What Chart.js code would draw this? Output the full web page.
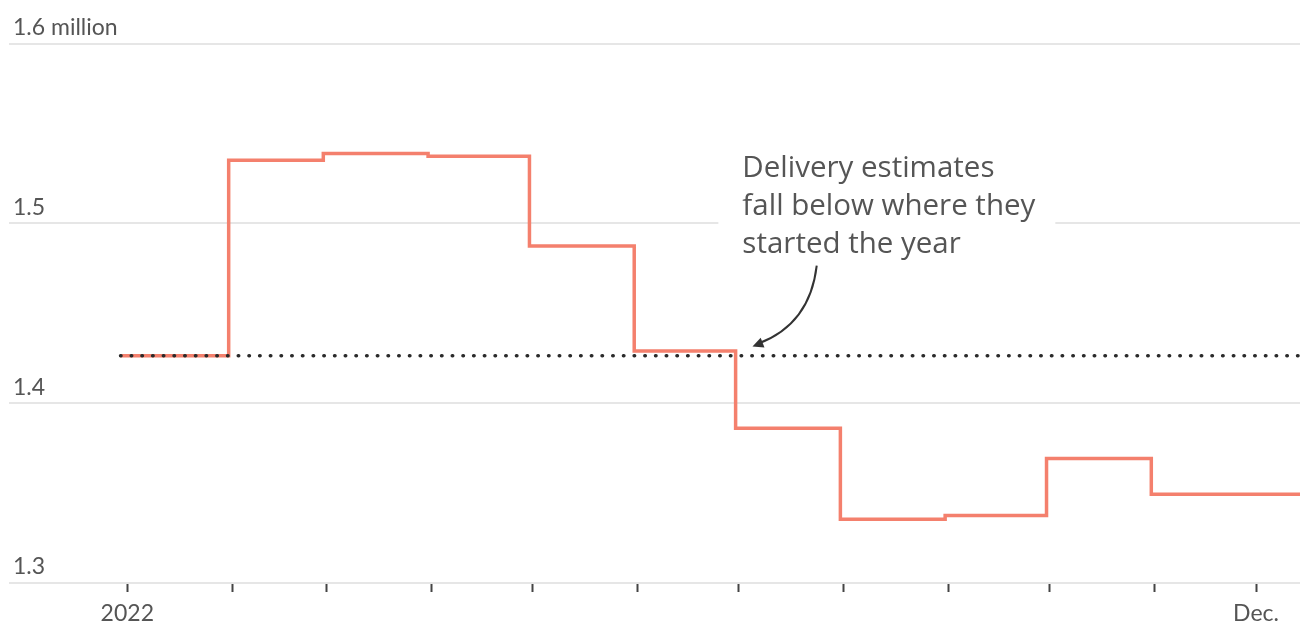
<!DOCTYPE html>
<html>
<head>
<meta charset="utf-8">
<script src="https://cdn.jsdelivr.net/npm/chart.js@4.4.1/dist/chart.umd.min.js"></script>
<style>
  html, body { margin: 0; padding: 0; background: #fff; }
  #wrap { position: relative; width: 1300px; height: 626px; }
</style>
</head>
<body>
<div id="wrap"><canvas id="chart"></canvas></div>
<script>
// each value holds from its date until the next one
const stepDates = [
  '2021-12-30', '2022-01-31', '2022-02-28', '2022-03-31', '2022-04-30', '2022-05-31',
  '2022-06-30', '2022-07-31', '2022-08-31', '2022-09-30', '2022-10-31'
];
const deliveryEstimates = [
  1.4263, 1.5351, 1.5388, 1.5373, 1.4874, 1.4290,
  1.3860, 1.3354, 1.3376, 1.3693, 1.3493
];
const seriesEndDate = '2022-12-31';

const monthTickDates = [
  '2022-01-01', '2022-02-01', '2022-03-01', '2022-04-01', '2022-05-01', '2022-06-01',
  '2022-07-01', '2022-08-01', '2022-09-01', '2022-10-01', '2022-11-01', '2022-12-01'
];
const monthTickLabels = ['2022', '', '', '', '', '', '', '', '', '', '', 'Dec.'];

const yTicks = [1.3, 1.4, 1.5, 1.6];
const yTickLabels = ['1.3', '1.4', '1.5', '1.6 million'];

const noteLines = ['Delivery estimates', 'fall below where they', 'started the year'];

const xMinDate = '2021-11-27';
const xMaxDate = '2022-12-14';

const DAY = 86400000;
const dayOf = s => (Date.parse(s) - Date.parse('2022-01-01')) / DAY;

const stepPoints = stepDates.map((d, i) => ({ x: dayOf(d), y: deliveryEstimates[i] }));
stepPoints.push({ x: dayOf(seriesEndDate), y: deliveryEstimates[deliveryEstimates.length - 1] });

const startLevel = deliveryEstimates[0];
const refPoints = [
  { x: dayOf(stepDates[0]), y: startLevel },
  { x: dayOf(seriesEndDate), y: startLevel }
];

// annotation placement, in data units
const noteAnchor = { date: '2022-07-02', value: 1.526 };
const arrowFrom = { date: '2022-07-24', value: 1.4765 };
const arrowBend = { date: '2022-07-22', value: 1.444 };
const arrowTip = { date: '2022-07-05', value: 1.4315 };

const notePlugin = {
  id: 'deliveryNote',
  afterDatasetsDraw(chart) {
    const { ctx, scales: { x, y } } = chart;
    const px = p => [x.getPixelForValue(dayOf(p.date)), y.getPixelForValue(p.value)];
    ctx.save();

    ctx.font = '29.5px "Open Sans"';
    const [tx, ty] = px(noteAnchor);
    const lineGap = 38;
    const maxW = Math.max(...noteLines.map(t => ctx.measureText(t).width));
    ctx.fillStyle = '#fff';
    ctx.fillRect(tx - 24, ty - 30, maxW + 44, lineGap * (noteLines.length - 1) + 42);
    ctx.fillStyle = '#555';
    ctx.textBaseline = 'alphabetic';
    noteLines.forEach((t, i) => ctx.fillText(t, tx, ty + i * lineGap));

    const [ax, ay] = px(arrowFrom);
    const [cx, cy] = px(arrowBend);
    const [bx, by] = px(arrowTip);
    ctx.strokeStyle = '#333';
    ctx.lineWidth = 2;
    ctx.beginPath();
    ctx.moveTo(ax, ay);
    ctx.quadraticCurveTo(cx, cy, bx + 6, by - 3);
    ctx.stroke();

    const ang = Math.atan2(by - cy, bx - cx);
    const len = 12, half = 0.45;
    ctx.fillStyle = '#333';
    ctx.beginPath();
    ctx.moveTo(bx, by);
    ctx.lineTo(bx - len * Math.cos(ang - half), by - len * Math.sin(ang - half));
    ctx.lineTo(bx - len * Math.cos(ang + half), by - len * Math.sin(ang + half));
    ctx.closePath();
    ctx.fill();
    ctx.restore();
  }
};

const tickFont = { family: 'Lato, "Open Sans", sans-serif', size: 23 };

new Chart(document.getElementById('chart').getContext('2d'), {
  type: 'line',
  data: {
    datasets: [
      {
        label: 'Start of year',
        data: refPoints,
        borderColor: '#2a2a2a',
        borderWidth: 3.5,
        borderDash: [0.5, 10.2],
        borderCapStyle: 'round',
        pointRadius: 0,
        order: 0
      },
      {
        label: 'Delivery estimates',
        data: stepPoints,
        borderColor: '#f4806d',
        borderWidth: 3.5,
        pointRadius: 0,
        stepped: 'before',
        order: 1
      }
    ]
  },
  options: {
    responsive: true,
    maintainAspectRatio: false,
    animation: false,
    parsing: false,
    layout: { padding: { left: 1, right: 0, top: 43.5, bottom: 0 } },
    plugins: {
      legend: { display: false },
      tooltip: { enabled: false }
    },
    scales: {
      x: {
        type: 'linear',
        min: dayOf(xMinDate),
        max: dayOf(xMaxDate),
        afterBuildTicks(axis) {
          axis.ticks = monthTickDates.map(d => ({ value: dayOf(d) }));
        },
        afterFit(axis) {
          axis.height = 43;
        },
        border: { display: false },
        grid: {
          drawOnChartArea: false,
          drawTicks: true,
          tickLength: 9,
          tickWidth: 2,
          tickColor: '#444'
        },
        ticks: {
          autoSkip: false,
          maxRotation: 0,
          padding: 8,
          color: '#555',
          font: tickFont,
          callback: (v, i) => monthTickLabels[i]
        }
      },
      y: {
        min: 1.3,
        max: 1.6,
        afterBuildTicks(axis) {
          axis.ticks = yTicks.map(v => ({ value: v }));
        },
        border: { display: false },
        grid: {
          color: '#e6e6e6',
          lineWidth: 2,
          drawTicks: false
        },
        ticks: {
          mirror: true,
          padding: 4,
          labelOffset: -16,
          color: '#555',
          font: tickFont,
          callback: (v, i) => yTickLabels[i]
        }
      }
    }
  },
  plugins: [notePlugin]
});
</script>
</body>
</html>
